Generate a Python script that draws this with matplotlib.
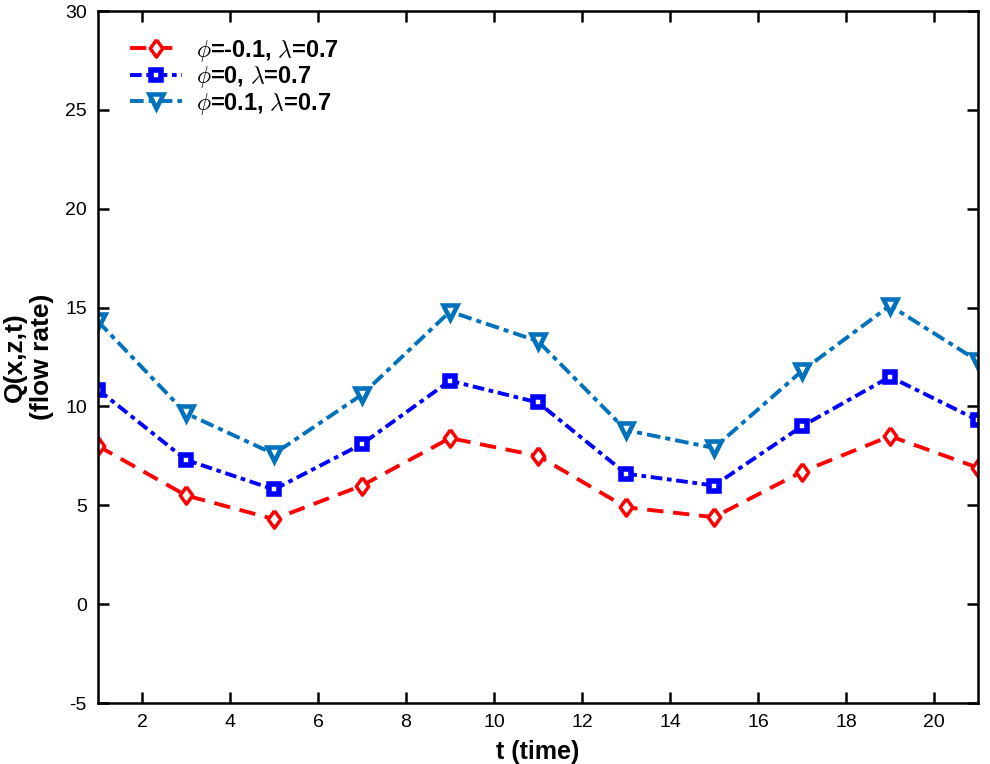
import matplotlib
matplotlib.use('Agg')
import matplotlib.pyplot as plt

# time samples
t = [1, 3, 5, 7, 9, 11, 13, 15, 17, 19, 21]

# flow rate for the three phi values (lambda = 0.7)
q_phi_neg = [8.0, 5.5, 4.3, 6.0, 8.4, 7.5, 4.9, 4.4, 6.7, 8.5, 6.9]
q_phi_zero = [10.85, 7.3, 5.8, 8.1, 11.3, 10.2, 6.6, 6.0, 9.0, 11.5, 9.3]
q_phi_pos = [14.3, 9.65, 7.6, 10.6, 14.8, 13.3, 8.8, 7.9, 11.8, 15.1, 12.3]

labels = [r'$\phi$=-0.1, $\lambda$=0.7',
          r'$\phi$=0, $\lambda$=0.7',
          r'$\phi$=0.1, $\lambda$=0.7']

plt.rcParams['font.family'] = ['Liberation Sans', 'DejaVu Sans']
plt.rcParams['mathtext.fontset'] = 'cm'
plt.rcParams['axes.unicode_minus'] = False

# a diamond a bit fatter than 'd'
diamond = [(0, 1), (0.72, 0), (0, -1), (-0.72, 0), (0, 1)]

fig = plt.figure(figsize=(9.9, 7.64), dpi=100)
ax = fig.add_axes([0.099, 0.0798, 0.8889, 0.9058])

ax.plot(t, q_phi_neg, color='red', linestyle=(0, (4.2, 2.5)), linewidth=2.8,
        marker=diamond, markersize=12.5, markerfacecolor='white', markeredgewidth=2.5,
        label=labels[0])
ax.plot(t, q_phi_zero, color='blue', linestyle=(0, (3, 1.2, 1.2, 1.2)), linewidth=2.8,
        marker='s', markersize=7, markerfacecolor='white', markeredgewidth=4,
        label=labels[1])
ax.plot(t, q_phi_pos, color='#0072BD', linestyle=(0, (3.5, 1.3, 1.3, 1.3)), linewidth=2.8,
        marker='v', markersize=10, markerfacecolor='white', markeredgewidth=3.3,
        label=labels[2])

ax.set_xlim(1, 21)
ax.set_ylim(-5, 30)
ax.set_xticks(range(2, 21, 2))
ax.set_yticks(range(-5, 31, 5))
ax.tick_params(direction='in', length=8, width=1.8, labelsize=14,
               top=True, right=True)
ax.tick_params(axis='x', pad=8)
ax.tick_params(axis='y', pad=8)
for s in ax.spines.values():
    s.set_linewidth(1.8)

ax.set_xlabel('t (time)', fontsize=18, fontweight='bold')
ax.xaxis.set_label_coords(0.5, -0.054)
ax.set_ylabel('Q(x,z,t)\n(flow rate)', fontsize=19, fontweight='bold',
              linespacing=1.15)
ax.yaxis.set_label_coords(-0.05, 0.5)

leg = ax.legend(loc='upper left', bbox_to_anchor=(0.026, 0.975), frameon=False,
                prop={'weight': 'bold', 'size': 17}, handlelength=2.2,
                labelspacing=0.02, borderaxespad=0, handletextpad=0.6)

fig.savefig('out.png', dpi=100)
